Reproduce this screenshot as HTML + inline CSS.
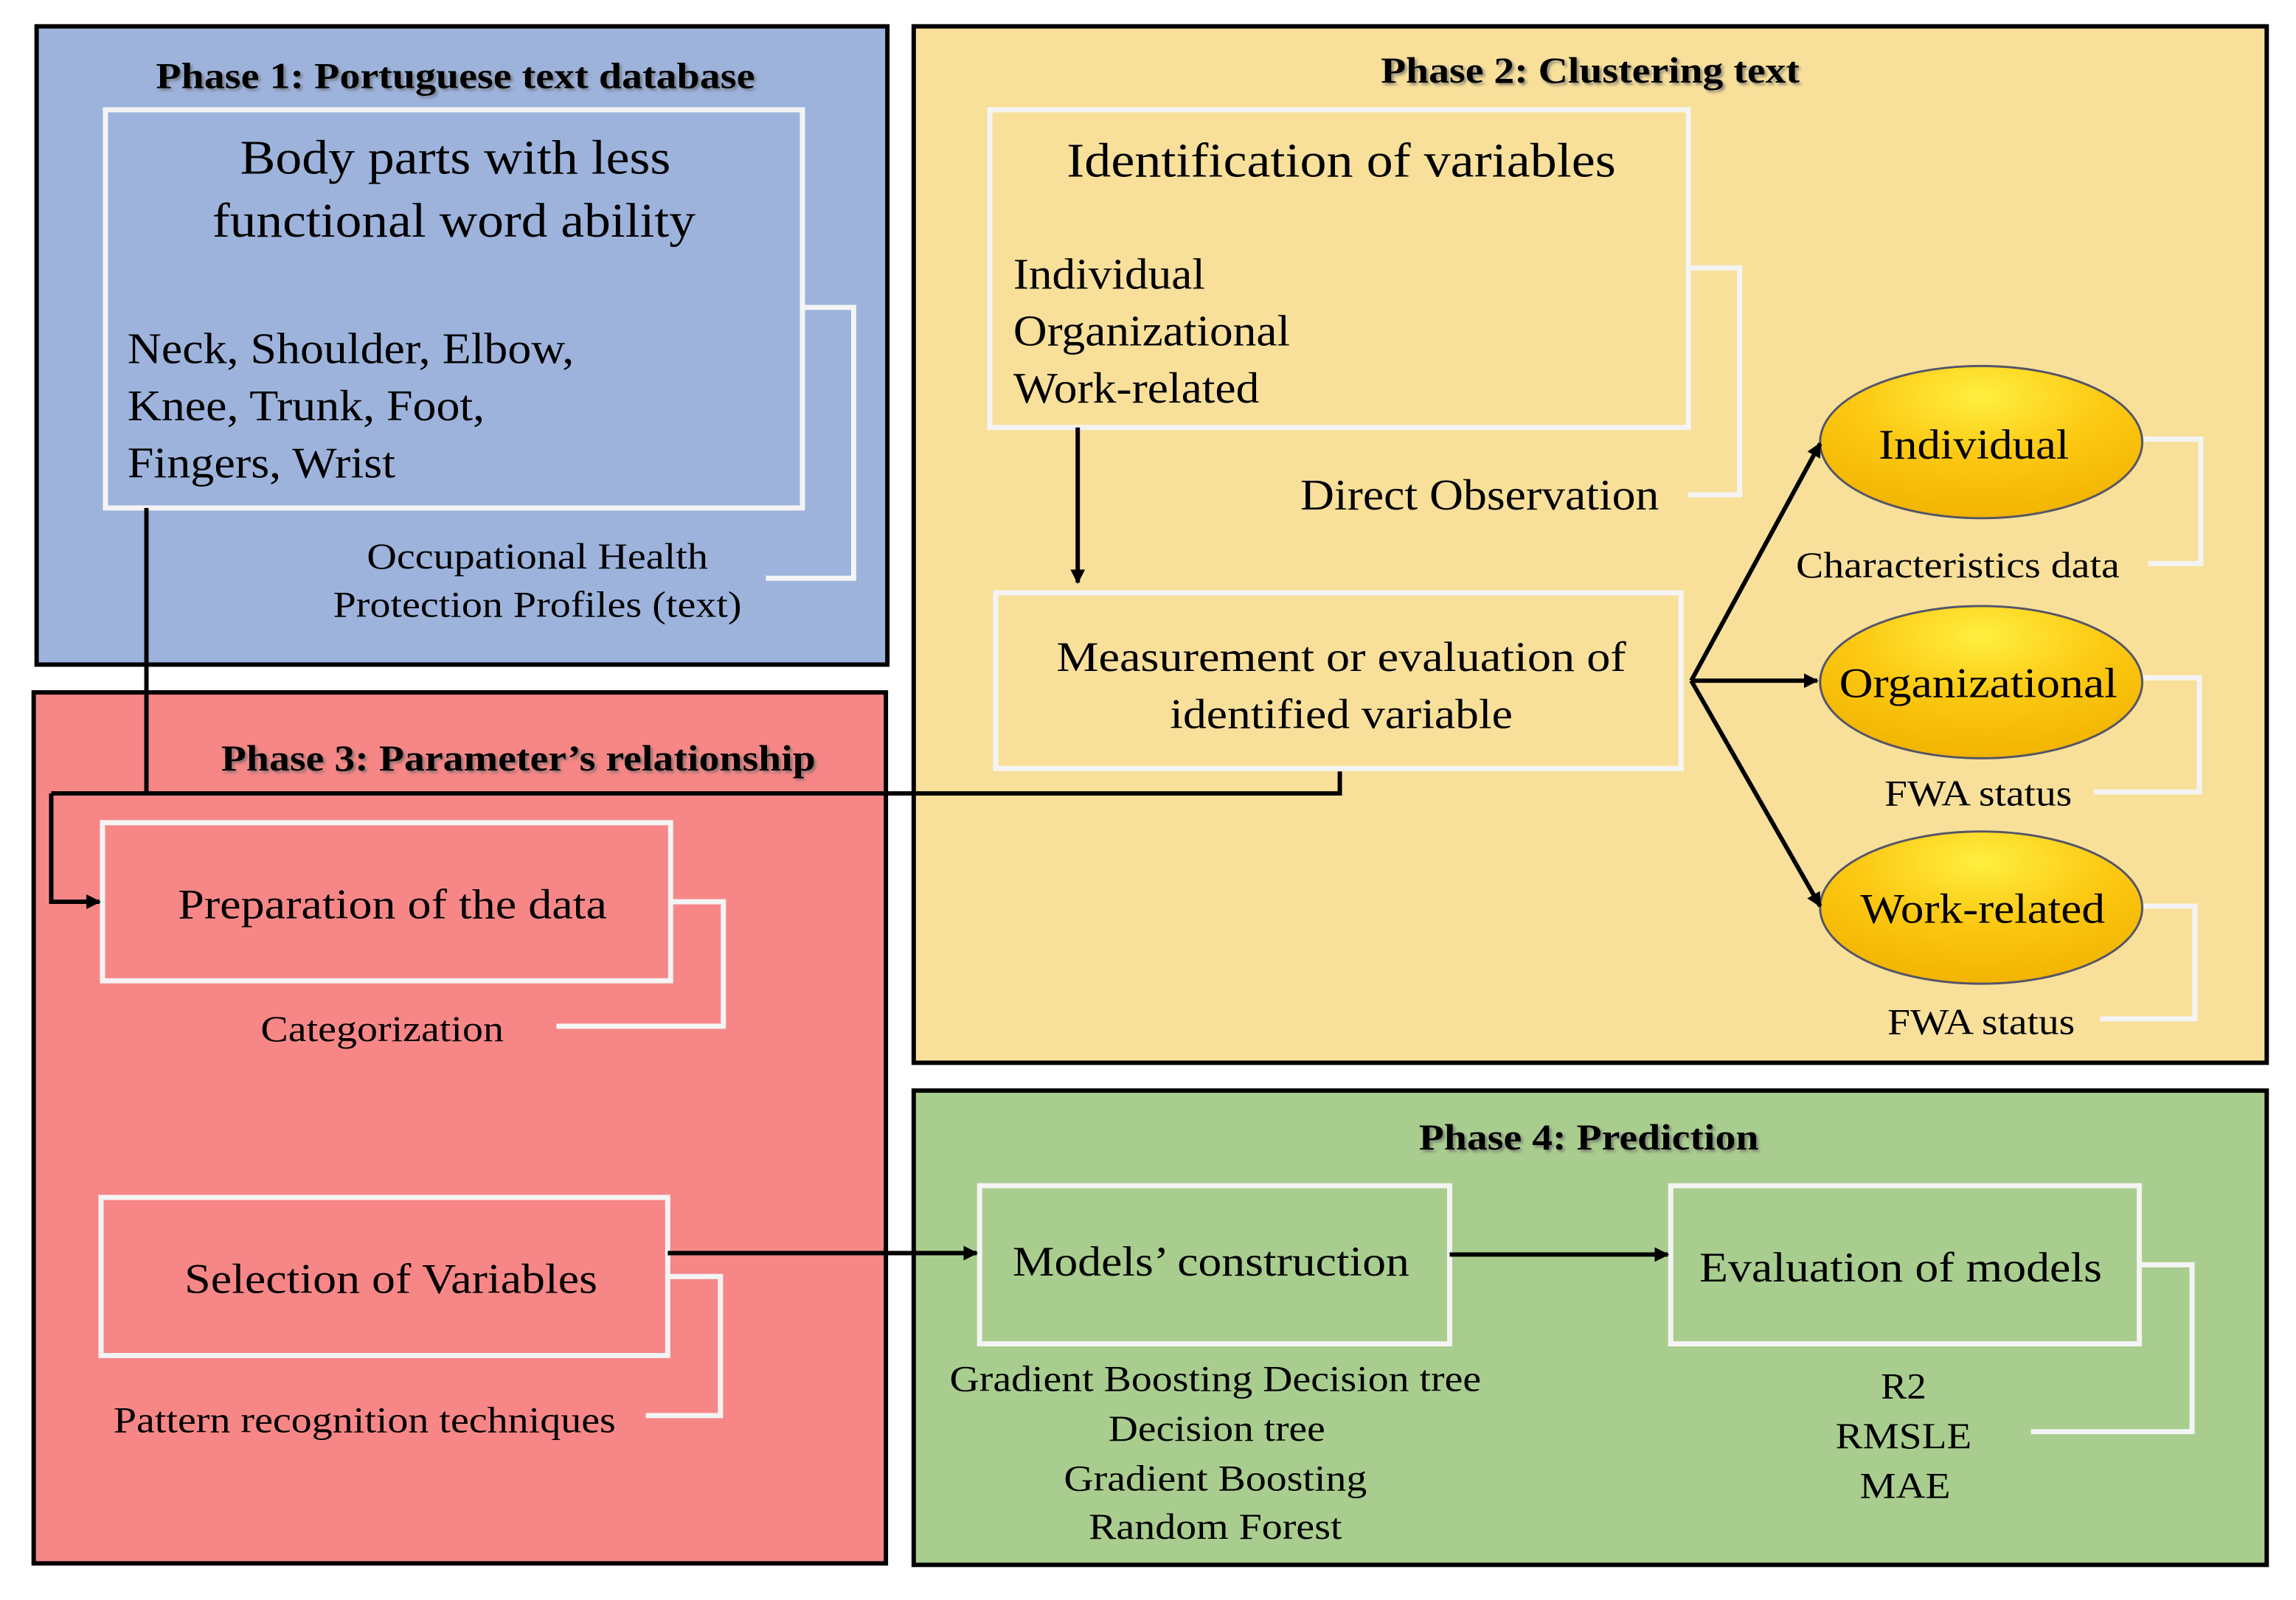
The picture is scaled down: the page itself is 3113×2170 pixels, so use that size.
<!DOCTYPE html>
<html><head><meta charset="utf-8"><style>html,body{margin:0;padding:0;background:#fff}svg{display:block}</style></head><body>
<svg width="3113" height="2170" viewBox="0 0 1568 1093" preserveAspectRatio="none" xmlns="http://www.w3.org/2000/svg" font-family="'Liberation Serif', serif">
<defs>
<marker id="ah" markerWidth="10" markerHeight="10" refX="9" refY="5" orient="auto" markerUnits="userSpaceOnUse"><path d="M0,0 L10,5 L0,10 Z" fill="#000"/></marker>
<radialGradient id="eg" cx="50%" cy="20%" r="80%"><stop offset="0" stop-color="#ffef40"/><stop offset="0.5" stop-color="#fcc812"/><stop offset="1" stop-color="#f2b400"/></radialGradient>
<filter id="sh"><feDropShadow dx="1.5" dy="1.5" stdDeviation="1" flood-color="#666" flood-opacity="0.7"/></filter>
</defs>
<rect x="25" y="18" width="581" height="436" fill="#9db3dc" stroke="#000" stroke-width="3"/>
<rect x="624" y="18" width="924" height="708" fill="#f8e09b" stroke="#000" stroke-width="3"/>
<rect x="23" y="473" width="582" height="595" fill="#f78787" stroke="#000" stroke-width="3"/>
<rect x="624" y="745" width="924" height="324" fill="#a9cd8e" stroke="#000" stroke-width="3"/>
<g fill="none" stroke="#f4f4f4" stroke-width="3.5">
<rect x="72" y="75" width="476" height="272"/>
<rect x="676" y="75" width="477" height="217"/>
<rect x="680" y="405" width="468" height="120"/>
<rect x="70" y="562" width="388" height="108"/>
<rect x="69" y="818" width="387" height="108"/>
<rect x="669" y="810" width="321" height="108"/>
<rect x="1141" y="810" width="320" height="108"/>
<polyline points="548,210 583,210 583,395 523,395"/>
<polyline points="1153,183 1188,183 1188,338 1153,338"/>
<polyline points="1463,300 1503,300 1503,385 1467,385"/>
<polyline points="1463,463 1502,463 1502,541 1430,541"/>
<polyline points="1463,619 1499,619 1499,696 1434,696"/>
<polyline points="458,616 494,616 494,701 380,701"/>
<polyline points="456,872 492,872 492,967 441,967"/>
<polyline points="1461,864 1497,864 1497,978 1387,978"/>
</g>
<g fill="url(#eg)" stroke="#556" stroke-width="1.5">
<ellipse cx="1353" cy="302" rx="110" ry="52"/>
<ellipse cx="1353" cy="466" rx="110" ry="52"/>
<ellipse cx="1353" cy="620" rx="110" ry="52"/>
</g>
<g fill="none" stroke="#000" stroke-width="3">
<polyline points="100,347 100,542"/>
<polyline points="35,542 915,542 915,527"/>
<polyline points="35,542 35,616 68,616" marker-end="url(#ah)"/>
<line x1="736" y1="292" x2="736" y2="398" marker-end="url(#ah)"/>
<line x1="1155" y1="465" x2="1243" y2="303" marker-end="url(#ah)"/>
<line x1="1155" y1="465" x2="1241" y2="465" marker-end="url(#ah)"/>
<line x1="1155" y1="465" x2="1243" y2="619" marker-end="url(#ah)"/>
<line x1="456" y1="856" x2="667" y2="856" marker-end="url(#ah)"/>
<line x1="990" y1="857" x2="1139" y2="857" marker-end="url(#ah)"/>
</g>
<g font-weight="bold" font-size="25" text-anchor="middle" dominant-baseline="central" filter="url(#sh)" lengthAdjust="spacingAndGlyphs">
<text x="311" y="52" textLength="409" lengthAdjust="spacingAndGlyphs">Phase 1: Portuguese text database</text>
<text x="1086" y="48" textLength="286" lengthAdjust="spacingAndGlyphs">Phase 2: Clustering text</text>
<text x="354" y="518" textLength="406" lengthAdjust="spacingAndGlyphs">Phase 3: Parameter’s relationship</text>
<text x="1085" y="777" textLength="232" lengthAdjust="spacingAndGlyphs">Phase 4: Prediction</text>
</g>
<g dominant-baseline="central" fill="#000">
<g font-size="33" text-anchor="middle"><text x="311" y="108" textLength="294" lengthAdjust="spacingAndGlyphs">Body parts with less</text><text x="310" y="151" textLength="330" lengthAdjust="spacingAndGlyphs">functional word ability</text>
<text x="916" y="110" textLength="375" lengthAdjust="spacingAndGlyphs">Identification of variables</text></g>
<g font-size="30"><text x="87" y="238" textLength="305" lengthAdjust="spacingAndGlyphs">Neck, Shoulder, Elbow,</text><text x="87" y="277" textLength="244" lengthAdjust="spacingAndGlyphs">Knee, Trunk, Foot,</text><text x="87" y="316" textLength="183" lengthAdjust="spacingAndGlyphs">Fingers, Wrist</text>
<text x="692" y="187" textLength="131" lengthAdjust="spacingAndGlyphs">Individual</text><text x="692" y="226" textLength="189" lengthAdjust="spacingAndGlyphs">Organizational</text><text x="692" y="265" textLength="168" lengthAdjust="spacingAndGlyphs">Work-related</text>
<text x="888" y="338" textLength="245" lengthAdjust="spacingAndGlyphs">Direct Observation</text></g>
<g font-size="29" text-anchor="middle">
<text x="916" y="449" textLength="389" lengthAdjust="spacingAndGlyphs">Measurement or evaluation of</text><text x="916" y="488" textLength="234" lengthAdjust="spacingAndGlyphs">identified variable</text>
<text x="1348" y="304" textLength="130" lengthAdjust="spacingAndGlyphs">Individual</text><text x="1351" y="467" textLength="190" lengthAdjust="spacingAndGlyphs">Organizational</text><text x="1354" y="621" textLength="167" lengthAdjust="spacingAndGlyphs">Work-related</text>
<text x="268" y="618" textLength="293" lengthAdjust="spacingAndGlyphs">Preparation of the data</text>
<text x="267" y="874" textLength="282" lengthAdjust="spacingAndGlyphs">Selection of Variables</text>
<text x="827" y="862" textLength="271" lengthAdjust="spacingAndGlyphs">Models’ construction</text>
<text x="1298" y="866" textLength="275" lengthAdjust="spacingAndGlyphs">Evaluation of models</text></g>
<g font-size="25" text-anchor="middle">
<text x="367" y="380" textLength="233" lengthAdjust="spacingAndGlyphs">Occupational Health</text><text x="367" y="413" textLength="279" lengthAdjust="spacingAndGlyphs">Protection Profiles (text)</text>
<text x="1337" y="386" textLength="221" lengthAdjust="spacingAndGlyphs">Characteristics data</text>
<text x="1351" y="542" textLength="128" lengthAdjust="spacingAndGlyphs">FWA status</text><text x="1353" y="698" textLength="128" lengthAdjust="spacingAndGlyphs">FWA status</text>
<text x="261" y="703" textLength="166" lengthAdjust="spacingAndGlyphs">Categorization</text>
<text x="249" y="970" textLength="343" lengthAdjust="spacingAndGlyphs">Pattern recognition techniques</text>
<text x="830" y="942" textLength="363" lengthAdjust="spacingAndGlyphs">Gradient Boosting Decision tree</text><text x="831" y="976" textLength="148" lengthAdjust="spacingAndGlyphs">Decision tree</text><text x="830" y="1010" textLength="207" lengthAdjust="spacingAndGlyphs">Gradient Boosting</text><text x="830" y="1043" textLength="173" lengthAdjust="spacingAndGlyphs">Random Forest</text>
<text x="1300" y="947" textLength="31" lengthAdjust="spacingAndGlyphs">R2</text><text x="1300" y="981" textLength="93" lengthAdjust="spacingAndGlyphs">RMSLE</text><text x="1301" y="1015" textLength="62" lengthAdjust="spacingAndGlyphs">MAE</text></g>
</g>
</svg>
</body></html>
